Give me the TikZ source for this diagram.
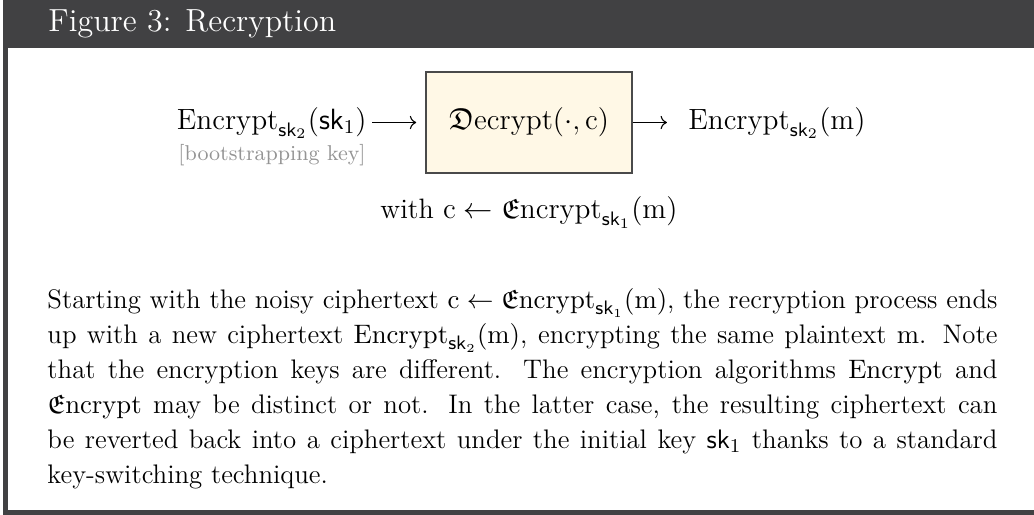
\documentclass[tikz,border=0pt]{standalone}
\usepackage{amsmath,amssymb}
\usepackage{xcolor}
\usetikzlibrary{arrows.meta,positioning}
\newcommand{\Enc}{\mathrm{Encrypt}}
\newcommand{\FEnc}{\mathfrak{E}\mathrm{ncrypt}}
\newcommand{\FDec}{\mathfrak{D}\mathrm{ecrypt}}
\newcommand{\skey}{\mathsf{sk}}
\newcommand{\cv}{\mathrm{c}}
\newcommand{\mv}{\mathrm{m}}
\definecolor{barcol}{HTML}{414143}
\definecolor{boxfill}{HTML}{FFF8E6}
\definecolor{boxline}{HTML}{4A4A4A}

\begin{document}
\begin{tikzpicture}[
    x=0.41pt, y=-0.41pt,
    lab/.style={inner sep=2pt, text height=2.3ex, text depth=1ex, font=\fontsize{11.5}{13}\selectfont},
    decbox/.style={lab, draw=boxline, fill=boxfill, line width=0.6pt, minimum width=84.5pt, minimum height=41.4pt, font=\fontsize{12.4}{14}\selectfont},
    keynote/.style={inner sep=0pt, text=black!42, font=\fontsize{8.8}{10}\selectfont},
    ar/.style={->, line width=0.45pt},
  ]
    \useasboundingbox (0,0) rectangle (1034,515);
    \fill[barcol] (3,0) rectangle (1034,48);
    \fill[barcol] (3,48) rectangle (8,515);
    \fill[barcol] (3,510) rectangle (1034,515);
    \node[anchor=west, inner sep=0pt, text=white, font=\fontsize{13.1}{15}\selectfont] (title) at (48,24) {Figure 3: Recryption};
    \node[decbox] (dec) at (529,122.5) {$\FDec(\cdot,\cv)$};
    \node[lab, anchor=east] (inp) at (372,122.5) {$\Enc_{\skey_2}(\skey_1)$};
    \node[lab, anchor=west] (out) at (683,122.5) {$\Enc_{\skey_2}(\mv)$};
    \node[keynote, anchor=west] (key) at (178,155) {[bootstrapping key]};
    \node[lab] (with) at (529,212) {with $\cv \leftarrow \FEnc_{\skey_1}(\mv)$};
    \node[anchor=north west, inner sep=0pt, text width=389.5pt, align=justify, font=\fontsize{11}{14.35}\selectfont] (para) at (47,288)
      {Starting with the noisy ciphertext $\cv \leftarrow \FEnc_{\skey_1}(\mv)$, the recryption process ends up with a new ciphertext $\Enc_{\skey_2}(\mv)$, encrypting the same plaintext $\mv$. Note that the encryption keys are different. The encryption algorithms $\Enc$ and $\FEnc$ may be distinct or not. In the latter case, the resulting ciphertext can be reverted back into a ciphertext under the initial key $\skey_1$ thanks to a standard key-switching technique.};
    \draw[ar, shorten >=3.7pt] (inp) -- (dec);
    \draw[ar, shorten >=6.6pt] (dec) -- (out);
  \end{tikzpicture}
\end{document}
